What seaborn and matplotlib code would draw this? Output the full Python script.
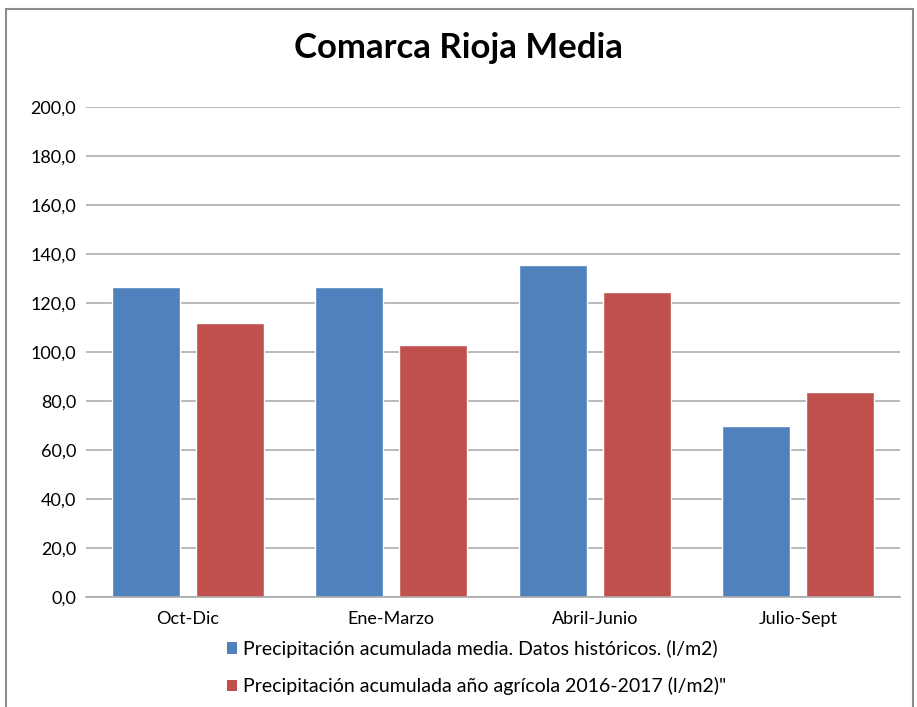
import matplotlib
matplotlib.use("Agg")
import matplotlib.pyplot as plt
from matplotlib.patches import Rectangle, Patch
import seaborn as sns
import pandas as pd

categories = ["Oct-Dic", "Ene-Marzo", "Abril-Junio", "Julio-Sept"]
historico = [126.5, 126.5, 135.5, 69.7]
agricola = [111.7, 103.0, 124.6, 83.8]
series_names = ["Precipitación acumulada media. Datos históricos. (l/m2)",
                "Precipitación acumulada año agrícola 2016-2017 (l/m2)\""]
yticks = [0, 20, 40, 60, 80, 100, 120, 140, 160, 180, 200]
title = "Comarca Rioja Media"

df = pd.DataFrame({
    "periodo": categories * 2,
    "valor": historico + agricola,
    "serie": [series_names[0]] * len(categories) + [series_names[1]] * len(categories),
})

sns.set_style("white")
plt.rcParams["font.family"] = ["Lato", "DejaVu Sans"]
plt.rcParams["text.color"] = "black"
plt.rcParams["xtick.color"] = "black"
plt.rcParams["ytick.color"] = "black"

W, H = 917, 707
fig = plt.figure(figsize=(W / 100, H / 100), dpi=100)
ax = fig.add_axes([86 / W, 1 - 597 / H, 814 / W, 490 / H])

colors = ["#4F81BD", "#C0504D"]
sns.barplot(data=df, x="periodo", y="valor", hue="serie", palette=colors,
            width=0.826, gap=0.196, ax=ax, legend=False, saturation=1)

ax.set_ylim(0, 200)
ax.set_yticks(yticks)
ax.set_yticklabels([f"{v:.1f}".replace(".", ",") for v in yticks], fontsize=13)
ax.set_xlim(-0.5, 3.5)
ax.set_xlabel("")
ax.set_ylabel("")
ax.tick_params(axis="x", labelsize=13, length=0, pad=10)
ax.tick_params(axis="y", length=0, pad=7)
ax.yaxis.grid(True, color="#a6a6a6", linewidth=1.1)
ax.set_axisbelow(True)
for s in ["top", "right", "left"]:
    ax.spines[s].set_visible(False)
ax.spines["bottom"].set_color("#a6a6a6")
ax.spines["bottom"].set_linewidth(1.1)

fig.text(0.5, 1 - 48 / H, title, ha="center", va="center", fontsize=25,
         fontweight="bold")

handles = [Patch(facecolor=c, edgecolor="none") for c in colors]
fig.legend(handles, series_names, loc="upper left",
           bbox_to_anchor=(219 / W, 1 - 632 / H), frameon=False, fontsize=14,
           handlelength=0.55, handleheight=0.55, handletextpad=0.3,
           labelspacing=1.0, borderaxespad=0)

fig.patches.append(Rectangle((6 / W, -0.05), 907 / W, 1.05 - 9 / H,
                             transform=fig.transFigure, fill=False,
                             edgecolor="#8c8c8c", linewidth=1.5))

fig.savefig("out.png", dpi=100)
